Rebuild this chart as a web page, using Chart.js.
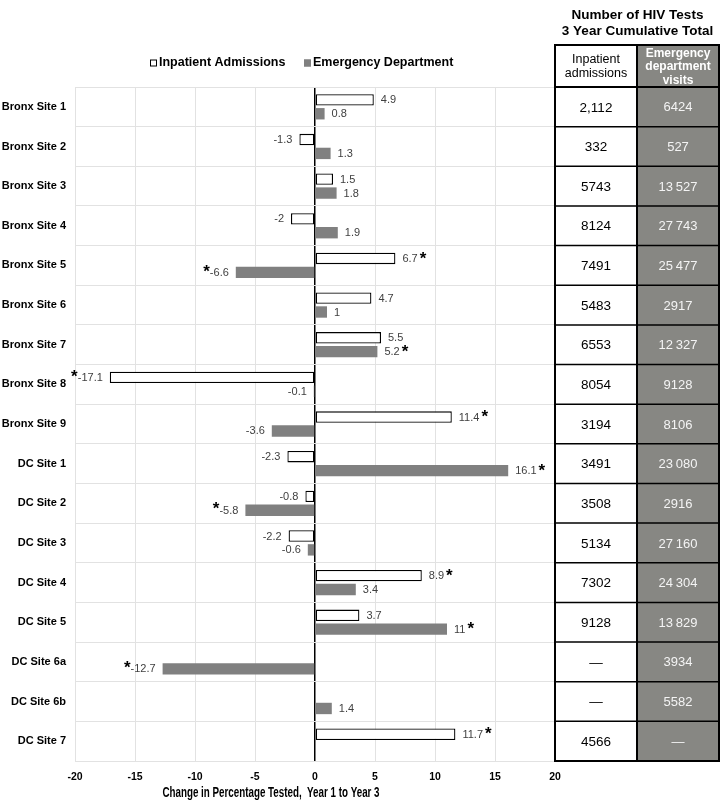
<!DOCTYPE html>
<html>
<head>
<meta charset="utf-8">
<title>Change in HIV testing by site</title>
<script src="https://cdn.jsdelivr.net/npm/chart.js@4.4.1/dist/chart.umd.min.js"></script>
<style>
  html, body { margin: 0; padding: 0; background: #fff; }
  #wrap { width: 720px; height: 803px; }
</style>
</head>
<body>
<div id="wrap"><canvas id="hivChart" width="720" height="803"></canvas></div>
<script>
// Sites (rows, top to bottom)
const sites = ["Bronx Site 1", "Bronx Site 2", "Bronx Site 3", "Bronx Site 4", "Bronx Site 5",
    "Bronx Site 6", "Bronx Site 7", "Bronx Site 8", "Bronx Site 9", "DC Site 1", "DC Site 2",
    "DC Site 3", "DC Site 4", "DC Site 5", "DC Site 6a", "DC Site 6b", "DC Site 7"];

// Change in percentage tested, year 1 to year 3
const inpatientChange = [4.9, -1.3, 1.5, -2, 6.7, 4.7, 5.5, -17.1, 11.4, -2.3, -0.8, -2.2, 8.9, 3.7, null, null, 11.7];
const edChange = [0.8, 1.3, 1.8, 1.9, -6.6, 1, 5.2, -0.1, -3.6, 16.1, -5.8, -0.6, 3.4, 11, -12.7, 1.4, null];

// significant changes (marked with *)
const inpatientSig = [false, false, false, false, true, false, false, true, true, false, false, false, true, false, false, false, true];
const edSig = [false, false, false, false, true, false, true, false, false, true, true, false, false, true, true, false, false];

// Number of HIV tests, 3 year cumulative total
const inpatientTests = ["2,112", "332", "5743", "8124", "7491", "5483", "6553", "8054", "3194", "3491", "3508", "5134", "7302", "9128", "\u2014", "\u2014", "4566"];
const edTests = ["6424", "527", "13\u2009527", "27\u2009743", "25\u2009477", "2917", "12\u2009327", "9128", "8106", "23\u2009080", "2916", "27\u2009160", "24\u2009304", "13\u2009829", "3934", "5582", "\u2014"];

const xTicks = [-20, -15, -10, -5, 0, 5, 10, 15, 20];
const xTitle = "Change in Percentage Tested,  Year 1 to Year 3";

const SANS = '"Liberation Sans", Arial, sans-serif';
const GREY = "#808080";
const TABLE_GREY = "#878783";

Chart.defaults.font.family = SANS;

// Value labels next to the bars, with * for significant changes
const barLabels = {
    id: "barLabels",
    afterDatasetsDraw(chart) {
        const ctx = chart.ctx;
        const sigs = [inpatientSig, edSig];
        ctx.save();
        chart.data.datasets.forEach((ds, di) => {
            const meta = chart.getDatasetMeta(di);
            meta.data.forEach((bar, i) => {
                const v = ds.data[i];
                if (v === null || v === undefined) return;
                const text = String(v);
                ctx.font = "11px " + SANS;
                ctx.fillStyle = "#404040";
                ctx.textBaseline = "middle";
                const w = ctx.measureText(text).width;
                if (v >= 0) {
                    const x = bar.x + 7;
                    ctx.textAlign = "left";
                    ctx.fillText(text, x, bar.y + 0.5);
                    if (sigs[di][i]) {
                        ctx.font = "bold 17px " + SANS;
                        ctx.fillStyle = "#000";
                        ctx.fillText("*", x + w + 2, bar.y + 0.5);
                    }
                } else {
                    const x = bar.x - 7;
                    ctx.textAlign = "right";
                    ctx.fillText(text, x, bar.y + 0.5);
                    if (sigs[di][i]) {
                        ctx.font = "bold 17px " + SANS;
                        ctx.fillStyle = "#000";
                        ctx.fillText("*", x - w, bar.y - 0.5);
                    }
                }
            });
        });
        ctx.restore();
    }
};

// Legend, axis title, table title and the table of test counts on the right
const sideTable = {
    id: "sideTable",
    afterDraw(chart) {
        const ctx = chart.ctx;
        const area = chart.chartArea;
        const yScale = chart.scales.y;
        const rowH = (area.bottom - area.top) / sites.length;
        const x0 = area.right, x1 = 637, x2 = 719;
        const headTop = 45;

        ctx.save();

        // legend
        ctx.font = "bold 12.5px " + SANS;
        ctx.textBaseline = "middle";
        ctx.textAlign = "left";
        const legY = 63;
        const items = [
            { x: 150, fill: "#fff", stroke: "#000", text: chart.data.datasets[0].label },
            { x: 304, fill: GREY, stroke: GREY, text: chart.data.datasets[1].label }
        ];
        items.forEach(it => {
            ctx.fillStyle = it.fill;
            ctx.fillRect(it.x, legY - 3.5, 7, 7);
            ctx.strokeStyle = it.stroke;
            ctx.lineWidth = 1;
            ctx.strokeRect(it.x + 0.5, legY - 3, 6, 6);
            ctx.fillStyle = "#000";
            ctx.fillText(it.text, it.x + 9, legY);
        });

        // x axis title in a condensed bold face
        ctx.save();
        ctx.font = "bold 14px " + SANS;
        ctx.textAlign = "center";
        ctx.translate(271, 793);
        ctx.scale(0.7, 1);
        ctx.fillText(xTitle, 0, 0);
        ctx.restore();

        // title over the table
        ctx.textAlign = "center";
        ctx.font = "bold 13.5px " + SANS;
        ctx.fillText("Number of HIV Tests", 637.5, 15);
        ctx.fillText("3 Year Cumulative Total", 637.5, 31.5);

        // cell backgrounds
        ctx.fillStyle = "#fff";
        ctx.fillRect(x0, headTop, x1 - x0, area.bottom - headTop);
        ctx.fillStyle = TABLE_GREY;
        ctx.fillRect(x1, headTop, x2 - x1, area.bottom - headTop);

        // header text
        ctx.fillStyle = "#000";
        ctx.font = "12.5px " + SANS;
        ctx.fillText("Inpatient", (x0 + x1) / 2, 60);
        ctx.fillText("admissions", (x0 + x1) / 2, 73.5);
        ctx.fillStyle = "#fff";
        ctx.font = "bold 12px " + SANS;
        ctx.fillText("Emergency", (x1 + x2) / 2, 53.5);
        ctx.fillText("department", (x1 + x2) / 2, 67);
        ctx.fillText("visits", (x1 + x2) / 2, 80.5);

        // cell values
        sites.forEach((s, i) => {
            const cy = yScale.getPixelForValue(i);
            ctx.font = "13.5px " + SANS;
            ctx.fillStyle = "#000";
            ctx.fillText(inpatientTests[i], (x0 + x1) / 2, cy + 1);
            ctx.font = "13px " + SANS;
            ctx.fillStyle = "#f4f4f4";
            ctx.fillText(edTests[i], (x1 + x2) / 2, cy + 1);
        });

        // grid lines of the table
        ctx.strokeStyle = "#000";
        ctx.lineWidth = 1.5;
        for (let i = 1; i < sites.length; i++) {
            const y = area.top + i * rowH;
            ctx.beginPath();
            ctx.moveTo(x0, y);
            ctx.lineTo(x2, y);
            ctx.stroke();
        }
        ctx.lineWidth = 2;
        ctx.beginPath();
        ctx.moveTo(x0, area.top);
        ctx.lineTo(x2, area.top);
        ctx.moveTo(x1, headTop);
        ctx.lineTo(x1, area.bottom);
        ctx.stroke();
        ctx.strokeRect(x0, headTop, x2 - x0, area.bottom - headTop);

        ctx.restore();
    }
};

new Chart(document.getElementById("hivChart"), {
    type: "bar",
    data: {
        labels: sites,
        datasets: [{
            label: "Inpatient Admissions",
            data: inpatientChange,
            backgroundColor: "#fff",
            borderColor: "#000",
            borderWidth: 1.3,
            borderSkipped: false,
            categoryPercentage: 0.7,
            barPercentage: 0.82
        }, {
            label: "Emergency Department",
            data: edChange,
            backgroundColor: GREY,
            borderWidth: 0,
            categoryPercentage: 0.7,
            barPercentage: 0.82
        }]
    },
    options: {
        indexAxis: "y",
        responsive: false,
        animation: false,
        layout: { padding: { top: 87, right: 165, left: 0, bottom: 0 } },
        plugins: {
            legend: { display: false },
            tooltip: { enabled: false }
        },
        scales: {
            x: {
                min: -20,
                max: 20,
                afterBuildTicks: scale => { scale.ticks = xTicks.map(v => ({ value: v })); },
                afterFit: scale => { scale.height = 42; },
                grid: {
                    drawTicks: false,
                    color: ctx => ctx.tick && ctx.tick.value === 0 ? "#000" : "#e2e2e2",
                    lineWidth: ctx => ctx.tick && ctx.tick.value === 0 ? 1.5 : 1
                },
                border: { color: "#e2e2e2" },
                ticks: {
                    padding: 10,
                    color: "#000",
                    font: { weight: "bold", size: 10.5 }
                }
            },
            y: {
                afterFit: scale => { scale.width = 75; },
                grid: { drawTicks: false, offset: true, color: "#e2e2e2" },
                border: { color: "#e2e2e2" },
                ticks: {
                    padding: 9,
                    autoSkip: false,
                    color: "#000",
                    font: { weight: "bold", size: 11 }
                }
            }
        }
    },
    plugins: [barLabels, sideTable]
});
</script>
</body>
</html>
